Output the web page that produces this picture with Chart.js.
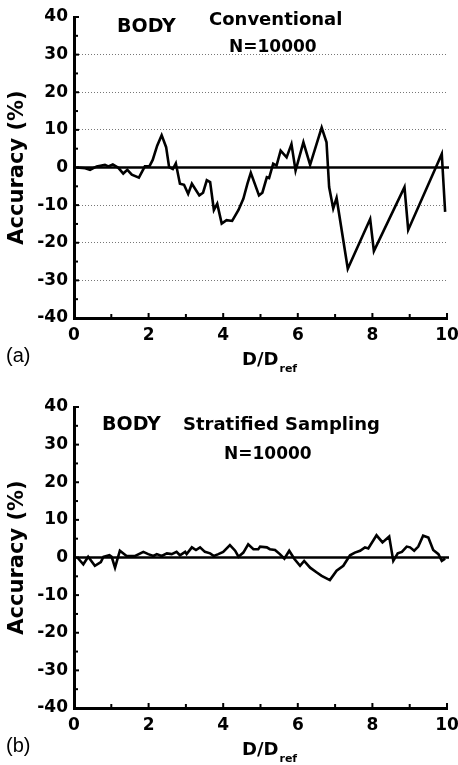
<!DOCTYPE html>
<html><head><meta charset="utf-8">
<script src="https://cdn.jsdelivr.net/npm/chart.js@4/dist/chart.umd.min.js"></script>
<style>
html,body{margin:0;padding:0;background:#fff;}
#wrap{position:relative;width:458px;height:765px;overflow:hidden;background:#fff;}
.box{position:absolute;left:0;width:458px;height:375px;}
</style></head><body>
<div id="wrap">
<div class="box" style="top:0"><canvas id="c1"></canvas></div>
<div class="box" style="top:390px"><canvas id="c2"></canvas></div>
</div>
<script>
// ---- data ----
const convX = [0.07,0.3,0.43,0.61,0.83,0.92,1.04,1.19,1.32,1.43,1.55,1.74,1.9,2.02,2.11,2.23,2.35,2.47,2.55,2.65,2.73,2.84,2.95,3.06,3.16,3.36,3.46,3.56,3.65,3.75,3.84,3.96,4.09,4.24,4.41,4.54,4.65,4.74,4.96,5.05,5.17,5.23,5.34,5.43,5.54,5.70,5.83,5.94,6.15,6.33,6.64,6.77,6.84,6.95,7.04,7.34,7.94,8.04,8.86,8.96,9.86,9.95];
const convY = [0,-0.2,-0.6,0.3,0.7,0.3,0.8,-0.1,-1.6,-0.6,-1.9,-2.7,0.3,0.3,2.0,5.8,8.6,5.4,0.1,-0.4,1.1,-4.3,-4.6,-7.0,-4.3,-7.4,-6.7,-3.4,-3.9,-11.3,-9.6,-14.9,-14.0,-14.2,-11.3,-8.3,-4.3,-1.4,-7.4,-6.7,-2.6,-2.8,1.0,0.5,4.5,2.7,6.2,-0.8,6.7,0.7,10.6,6.7,-5.2,-10.9,-8.1,-26.9,-13.7,-22.2,-5.2,-16.6,3.6,-11.8];
const stratX = [0.09,0.25,0.38,0.56,0.72,0.79,0.95,1.01,1.10,1.23,1.41,1.64,1.86,1.99,2.13,2.22,2.35,2.49,2.62,2.75,2.84,2.98,3.02,3.16,3.27,3.38,3.51,3.65,3.75,3.87,4.00,4.18,4.32,4.41,4.54,4.67,4.81,4.94,4.99,5.17,5.25,5.39,5.52,5.64,5.77,5.91,6.06,6.17,6.33,6.51,6.64,6.86,7.04,7.22,7.40,7.53,7.67,7.80,7.89,8.11,8.27,8.45,8.56,8.68,8.79,8.92,9.01,9.12,9.23,9.36,9.50,9.63,9.77,9.86,9.95];
const stratY = [0,-1.8,0.2,-2.2,-1.2,0.2,0.6,0.2,-2.7,1.8,0.4,0.4,1.5,0.9,0.4,0.9,0.4,1.1,0.9,1.5,0.6,1.5,0.9,2.7,2.0,2.7,1.5,1.1,0.4,0.9,1.5,3.3,1.8,0.2,1.3,3.5,2.2,2.2,2.9,2.7,2.2,2.0,0.9,-0.3,1.8,-0.4,-2.2,-0.9,-2.7,-4.0,-4.9,-6.0,-3.5,-2.2,0.6,1.3,1.8,2.7,2.4,5.9,4.0,5.6,-0.9,1.1,1.5,2.9,2.7,1.8,2.9,5.8,5.3,2.0,0.9,-0.9,-0.3];
const xTickLabels = ['0','2','4','6','8','10'];
const yTickLabels = ['-40','-30','-20','-10','0','10','20','30','40'];
const yTitle = 'Accuracy (%)';

const BOLD = '"DejaVu Sans", "Liberation Sans", Arial, sans-serif';
const REG = '"Liberation Sans", Arial, Helvetica, sans-serif';

const deco = {
  id: 'deco',
  afterDraw(chart, args, o) {
    const ctx = chart.ctx, xs = chart.scales.x, ys = chart.scales.y, ca = chart.chartArea;
    ctx.save();
    ctx.strokeStyle = '#000';
    ctx.fillStyle = '#000';
    // zero line
    ctx.lineWidth = 2.5;
    const y0 = ys.getPixelForValue(0);
    ctx.beginPath(); ctx.moveTo(ca.left, y0); ctx.lineTo(ca.right + 2, y0); ctx.stroke();
    // inward ticks
    ctx.lineWidth = 2;
    for (let v = -35; v <= 40; v += 5) {
      const y = ys.getPixelForValue(v);
      ctx.beginPath(); ctx.moveTo(ca.left, y); ctx.lineTo(ca.left + (v % 10 === 0 ? 5 : 4), y); ctx.stroke();
    }
    for (let v = 1; v <= 10; v += 1) {
      const x = xs.getPixelForValue(v);
      ctx.beginPath(); ctx.moveTo(x, ca.bottom); ctx.lineTo(x, ca.bottom - (v % 2 === 0 ? 5 : 4)); ctx.stroke();
    }
    // annotations
    ctx.textBaseline = 'middle';
    ctx.textAlign = 'left';
    for (const t of o.texts) {
      ctx.font = 'bold ' + t.s + 'px ' + BOLD;
      ctx.fillText(t.t, t.x, t.y);
    }
    // x title D/D_ref
    const tx = 242, ty = ca.bottom + 42;
    ctx.font = 'bold 18px ' + BOLD;
    ctx.fillText('D/D', tx, ty);
    const w = ctx.measureText('D/D').width;
    ctx.font = 'bold 11px ' + BOLD;
    ctx.fillText('ref', tx + w + 1, ty + 9);
    // panel label
    ctx.font = '20px ' + REG;
    ctx.fillText(o.panel, 6, ca.bottom + 38);
    ctx.restore();
  }
};

function makeChart(id, xs, ys, texts, panel, grid) {
  const pts = xs.map((x, i) => ({x: x, y: ys[i]}));
  return new Chart(document.getElementById(id), {
    type: 'line',
    data: { datasets: [{ data: pts, borderColor: '#000', borderWidth: 2.6, pointRadius: 0, tension: 0, fill: false }] },
    options: {
      responsive: true, maintainAspectRatio: false, animation: false, devicePixelRatio: 1,
      layout: { padding: { top: 17, left: 0, right: 11, bottom: 0 } },
      plugins: { legend: { display: false }, tooltip: { enabled: false }, deco: { texts: texts, panel: panel } },
      scales: {
        x: {
          type: 'linear', min: 0, max: 10,
          afterFit(s) { s.height = 57; s.paddingLeft = 0; s.paddingRight = 0; },
          ticks: { stepSize: 2, color: '#000', font: { family: BOLD, weight: 'bold', size: 17 }, padding: 7, maxRotation: 0,
                   callback: (v) => xTickLabels[Math.round(v / 2)] },
          grid: { display: false, drawTicks: false },
          border: { display: true, color: '#000', width: 3 }
        },
        y: {
          min: -40, max: 40,
          afterFit(s) { s.width = 74; s.paddingTop = 0; s.paddingBottom = 0; },
          title: { display: true, text: yTitle, color: '#000', font: { family: BOLD, weight: 'bold', size: 21 }, padding: { top: 5, bottom: 0 } },
          ticks: { stepSize: 10, color: '#000', font: { family: BOLD, weight: 'bold', size: 17 }, padding: 6,
                   callback: (v) => yTickLabels[Math.round((v + 40) / 10)] },
          grid: { display: grid, drawTicks: false, lineWidth: 1,
                  color: (c) => { const v = c.tick && c.tick.value; return (v % 10 === 0 && v !== 0 && Math.abs(v) < 40) ? '#777' : 'rgba(0,0,0,0)'; } },
          border: { display: true, color: '#000', width: 3, dash: [1, 2] }
        }
      }
    },
    plugins: [deco]
  });
}

makeChart('c1', convX, convY, [
  {t: 'BODY', x: 117, y: 27, s: 19},
  {t: 'Conventional', x: 209, y: 20, s: 18},
  {t: 'N=10000', x: 229, y: 48, s: 17}
], '(a)', true);
makeChart('c2', stratX, stratY, [
  {t: 'BODY', x: 102, y: 35, s: 19},
  {t: 'Stratified Sampling', x: 183, y: 35, s: 18},
  {t: 'N=10000', x: 224, y: 65, s: 17}
], '(b)', false);
</script>
</body></html>
